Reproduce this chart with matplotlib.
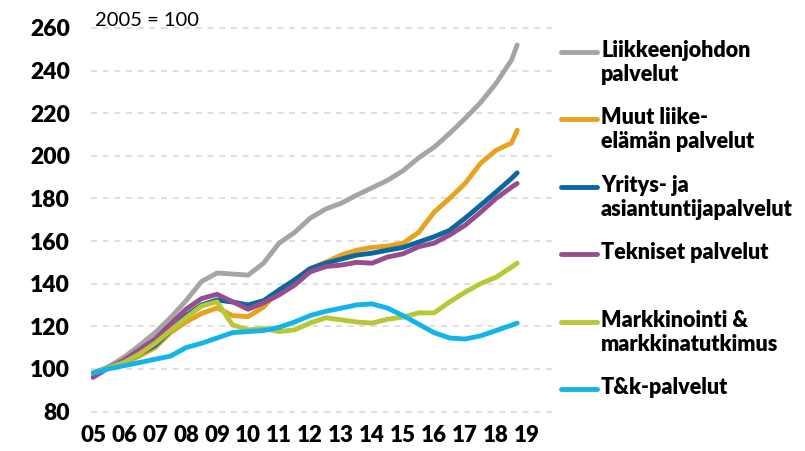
import numpy as np
import matplotlib
matplotlib.use("Agg")
import matplotlib.pyplot as plt
from matplotlib.lines import Line2D

# half-year points, last one ~ Sep 2018
years = [2005.0, 2005.5, 2006.0, 2006.5, 2007.0, 2007.5, 2008.0, 2008.5, 2009.0, 2009.5,
         2010.0, 2010.5, 2011.0, 2011.5, 2012.0, 2012.5, 2013.0, 2013.5, 2014.0, 2014.5,
         2015.0, 2015.5, 2016.0, 2016.5, 2017.0, 2017.5, 2018.0, 2018.5, 2018.68]

liikkeenjohto = [98, 101, 105.5, 111, 117, 124, 132, 141, 145, 144.5,
                 144, 149.6, 159, 164, 170.7, 175, 177.7, 181.5, 185, 188.5,
                 193, 199, 204, 210.5, 217.5, 225, 234, 245, 252]
muut = [98, 100.5, 103, 106, 110, 117, 122, 126, 128.6, 125,
        124.5, 129, 137, 141.7, 147, 150, 153.4, 155.7, 157, 157.6,
        159, 164, 173.5, 180, 187, 196.5, 202.6, 206, 212]
yritys = [98, 100.5, 103, 107, 111, 118, 125, 130, 132.3, 131.4,
          130, 132, 137, 141.7, 147, 149.6, 151.5, 153.4, 154.3, 155.7,
          157, 159.5, 162, 165, 170.7, 176.8, 183, 189.4, 192]
tekniset = [96, 100.5, 104, 109, 114, 121, 128, 133, 135, 131.5,
            128, 131, 134.7, 139.3, 145.5, 148, 148.7, 150, 149.6, 152.5,
            154, 157.3, 159, 162.8, 167.4, 173.5, 180, 185.3, 187]
markkinointi = [98, 100.5, 103, 107, 112, 118, 124, 129.5, 131.5, 120.6,
                118.3, 119, 117.5, 118.3, 121.5, 124, 123, 122, 121.5, 123.3,
                124.3, 126.3, 126.3, 131.4, 136, 140, 143, 147.8, 149.6]
tk = [98, 100, 101.5, 103, 104.5, 106, 110, 112, 114.5, 117,
      117.5, 118, 119.5, 122, 125, 127, 128.5, 130, 130.5, 128.5,
      125, 121, 117, 114.5, 114, 115.5, 118, 120.5, 121.5]

series = [liikkeenjohto, muut, yritys, tekniset, markkinointi, tk]
labels = ["Liikkeenjohdon\npalvelut", "Muut liike-\nelämän palvelut",
          "Yritys- ja\nasiantuntijapalvelut", "Tekniset palvelut",
          "Markkinointi &\nmarkkinatutkimus", "T&k-palvelut"]
colors = ["#a5a5a5", "#e6a31e", "#0b67a0", "#964d8e", "#b7c735", "#13b4ea"]

yticks = [80, 100, 120, 140, 160, 180, 200, 220, 240, 260]
xticks = list(range(2005, 2020))
xticklabels = ["%02d" % (y % 100) for y in xticks]

plt.rcParams["font.family"] = ["Lato", "DejaVu Sans"]

W, H = 805, 451
fig = plt.figure(figsize=(W / 100, H / 100), dpi=100)
ax = fig.add_axes([91 / W, 1 - 413 / H, (555 - 91) / W, (413 - 26) / H])

for s, c in zip(series, colors):
    ax.plot(years, s, color=c, lw=3.5, solid_capstyle="round", solid_joinstyle="round")

ax.set_xlim(2004.935, 2019.9)
ax.set_ylim(79.3, 260.9)
ax.set_yticks(yticks)
ax.set_xticks(xticks)
ax.set_xticklabels(xticklabels)
ax.grid(axis="y", color="#d9d9d9", lw=1.2, ls=(0, (3.5, 3.5)))
ax.set_axisbelow(True)
for sp in ax.spines.values():
    sp.set_visible(False)
ax.tick_params(length=0)
ax.tick_params(axis="y", pad=15, labelsize=16.5)
ax.tick_params(axis="x", pad=9, labelsize=16)
for t in ax.get_xticklabels() + ax.get_yticklabels():
    t.set_fontweight("heavy")

fig.text(95 / W, 1 - 20 / H, "2005 = 100", fontsize=14.5, va="center", ha="left")

# legend drawn by hand so each entry sits on its own slot
legend_y = [52, 119, 187, 254, 322, 389]
for yy, lab, c in zip(legend_y, labels, colors):
    fy = 1 - yy / H
    fig.add_artist(Line2D([561 / W, 597 / W], [fy, fy], color=c, lw=3.5,
                          solid_capstyle="round", transform=fig.transFigure))
    fig.text(601 / W, 1 - (yy - 12) / H, lab, fontsize=15.5, fontweight="heavy",
             va="top", ha="left", linespacing=1.2)

fig.savefig("out.png", dpi=100)
